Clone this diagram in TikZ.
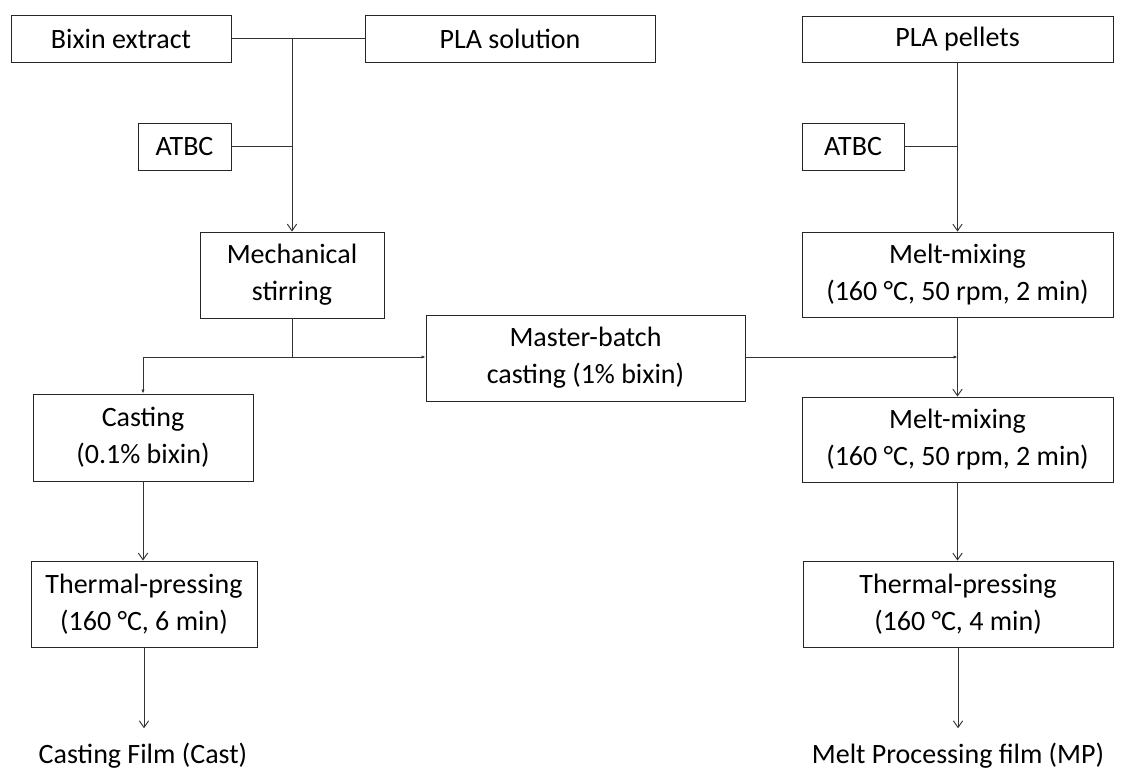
\documentclass[tikz,border=0pt]{standalone}
\usepackage{fontspec}
\setmainfont{Carlito}
\usetikzlibrary{arrows.meta}
\begin{document}
\begin{tikzpicture}[x=0.75pt,y=-0.75pt,
  box/.style={draw=black!85,line width=0.7pt,align=center,inner sep=0pt,font=\fontsize{21}{28}\selectfont},
  lbl/.style={inner sep=0pt,font=\fontsize{21}{28}\selectfont},
  conn/.style={draw=black!80,line width=0.7pt},
  arr/.style={conn,-{Straight Barb[length=5pt,width=7pt]}},
  sarr/.style={conn,-{Latex[length=3pt,width=2.5pt]}}]
\fill[white] (0,0) rectangle (1148,769);
\useasboundingbox (0,0) rectangle (1148,769);
\node[box,minimum width=220*0.75pt,minimum height=47*0.75pt] (bixin) at (121,38.5) {Bixin extract};
\node[box,minimum width=290*0.75pt,minimum height=47*0.75pt] (plasol) at (510,38.5) {PLA solution};
\node[box,minimum width=93*0.75pt,minimum height=47*0.75pt] (atbc1) at (184.5,146.5) {ATBC};
\node[box,minimum width=311*0.75pt,minimum height=46*0.75pt] (pellets) at (957.5,39) {PLA pellets};
\node[box,minimum width=102*0.75pt,minimum height=47*0.75pt] (atbc2) at (853,146.5) {ATBC};
\node[box,minimum width=184*0.75pt,minimum height=86*0.75pt] (mech) at (292,275) {Mechanical\\stirring};
\node[box,minimum width=311*0.75pt,minimum height=85*0.75pt] (mm1) at (957.5,274.5) {Melt-mixing\\(160 °C, 50 rpm, 2 min)};
\node[box,minimum width=319*0.75pt,minimum height=86*0.75pt] (master) at (585.5,358) {Master-batch\\casting (1\% bixin)};
\node[box,minimum width=220*0.75pt,minimum height=87*0.75pt] (casting) at (143,437.5) {Casting\\(0.1\% bixin)};
\node[box,minimum width=311*0.75pt,minimum height=85*0.75pt] (mm2) at (957.5,439.5) {Melt-mixing\\(160 °C, 50 rpm, 2 min)};
\node[box,minimum width=226*0.75pt,minimum height=86*0.75pt] (tp1) at (144,604) {Thermal-pressing\\(160 °C, 6 min)};
\node[box,minimum width=310*0.75pt,minimum height=86*0.75pt] (tp2) at (958,604) {Thermal-pressing\\(160 °C, 4 min)};
\node[lbl,anchor=base] (castfilm) at (143,763) {Casting Film (Cast)};
\node[lbl,anchor=base] (mpfilm) at (958,763) {Melt Processing film (MP)};
% connectors
\draw[conn] (bixin.east) -- (plasol.west);
\coordinate (j1) at (bixin.east -| mech.north);
\draw[arr] (j1) -- (mech.north);
\draw[conn] (atbc1.east) -- (atbc1.east -| mech.north);
\draw[arr] (pellets.south) -- (mm1.north);
\draw[conn] (atbc2.east) -- (atbc2.east -| pellets.south);
\coordinate (br) at (mech.south |- 0,357);
\draw[conn] (mech.south) -- (br);
\draw[sarr] (br) -| (casting.north);
\draw[sarr] (br) -- (master.west |- br);
\draw[sarr] (master.east |- br) -- (br -| mm1.south);
\draw[arr] (mm1.south) -- (mm2.north);
\draw[arr] (mm2.south) -- (mm2.south |- tp2.north);
\draw[arr] (casting.south) -- (casting.south |- tp1.north);
\draw[arr] (tp1.south) -- ([yshift=14*0.75pt]castfilm.north -| tp1.south);
\draw[arr] (tp2.south) -- ([yshift=14*0.75pt]mpfilm.north -| tp2.south);
\end{tikzpicture}
\end{document}
